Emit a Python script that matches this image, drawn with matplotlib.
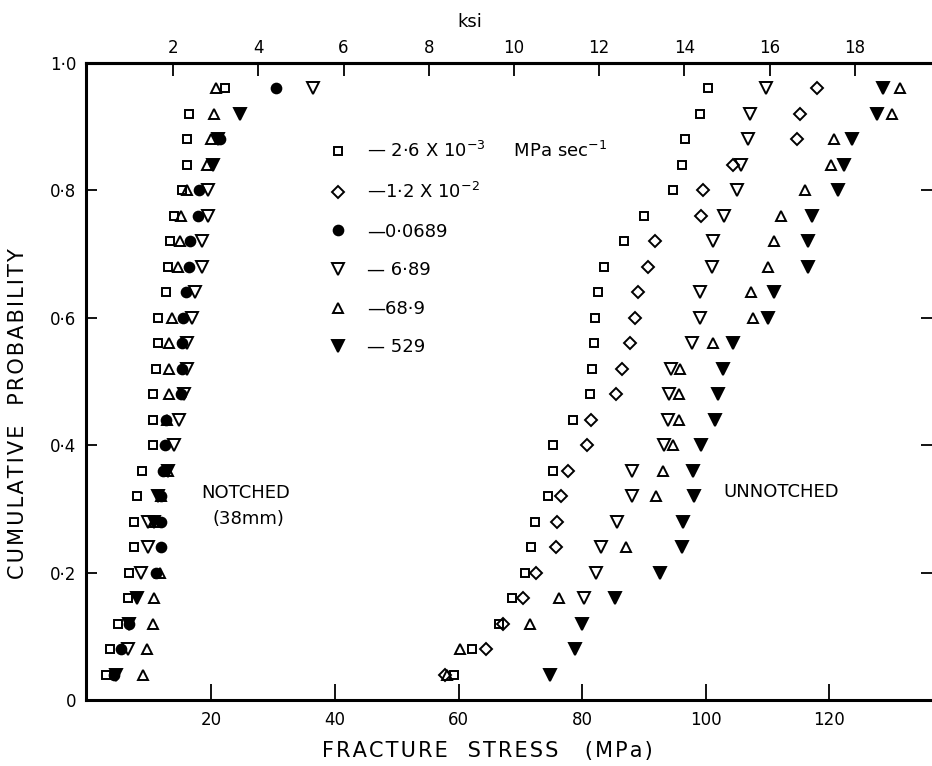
import numpy as np
import matplotlib.pyplot as plt

plt.rcParams['font.family'] = ['DejaVu Sans']
plt.rcParams['mathtext.default'] = 'regular'

nan = np.nan
MPA_PER_KSI = 6.895

# cumulative probability levels (i/25)
prob = [0.04, 0.08, 0.12, 0.16, 0.20, 0.24, 0.28, 0.32, 0.36, 0.40, 0.44, 0.48,
        0.52, 0.56, 0.60, 0.64, 0.68, 0.72, 0.76, 0.80, 0.84, 0.88, 0.92, 0.96]

# fracture stress (MPa), nan = point not visible
# 2.6e-3 MPa/s  (open square)
sq_notched = [3.0, 3.6, 4.9, 6.5, 6.7, 7.4, 7.5, 7.9, 8.7, 10.6, 10.6, 10.5,
              11.0, 11.3, 11.4, 12.6, 13.0, 13.3, 13.9, 15.3, 16.1, 16.1, 16.4, 22.2]
sq_unnotched = [59.2, 62.1, 66.6, 68.6, 70.7, 71.7, 72.3, 74.5, 75.2, 75.3, 78.5, 81.2,
                81.6, 81.9, 82.0, 82.6, 83.5, 86.7, 90.0, 94.7, 96.1, 96.6, 99.0, 100.4]
# 1.2e-2 MPa/s  (open diamond) - only unnotched
dia_notched = [nan] * 24
dia_unnotched = [57.8, 64.4, 67.2, 70.4, 72.6, 75.8, 75.9, 76.6, 77.7, 80.7, 81.5, 85.5,
                 86.4, 87.7, 88.5, 89.1, 90.6, 91.8, 99.2, 99.5, 104.4, 114.8, 115.3, 118.0]
# 0.0689 MPa/s  (filled circle) - only notched
circ_notched = [4.3, 5.3, 6.7, nan, 11.0, 11.8, 11.8, 11.8, 12.2, 12.5, 12.6, 15.0,
                15.2, 15.2, 15.4, 15.9, 16.4, 16.5, 17.9, 18.0, nan, 21.4, nan, 30.5]
circ_unnotched = [nan] * 24
# 6.89 MPa/s  (open triangle down)
tdn_notched = [nan, 6.5, nan, nan, 8.6, 9.7, 9.7, nan, nan, 14.0, 14.7, 15.6,
               16.1, 16.1, 16.8, 17.3, 18.4, 18.4, 19.5, 19.5, nan, nan, nan, 36.4]
tdn_unnotched = [nan, nan, nan, 80.3, 82.3, 83.0, 85.7, 88.0, 88.1, 93.2, 93.8, 94.1,
                 94.4, 97.7, 99.0, 99.1, 101.0, 101.2, 102.9, 105.0, 105.7, 106.8, 107.2, 109.7]
# 68.9 MPa/s  (open triangle up)
tup_notched = [9.0, 9.5, 10.6, 10.7, 11.7, nan, 10.9, 11.8, 12.9, nan, 12.8, 13.1,
               13.1, 13.1, 13.6, nan, 14.6, 14.9, 15.0, 16.1, 19.2, 19.9, 20.4, 20.8]
tup_unnotched = [58.1, 60.3, 71.6, 76.2, nan, 87.1, nan, 92.0, 93.1, 94.7, 95.7, 95.7,
                 95.9, 101.2, 107.7, 107.3, 110.1, 111.1, 112.2, 116.0, 120.3, 120.7, 130.1, 131.4]
# 529 MPa/s  (filled triangle down)
fdn_notched = [4.5, nan, 6.7, 8.0, nan, nan, 10.7, 11.3, 12.9, nan, nan, nan,
               nan, nan, nan, nan, nan, nan, nan, nan, 20.3, 21.0, 24.6, nan]
fdn_unnotched = [74.8, 78.9, 80.0, 85.3, 92.6, 96.2, 96.3, 98.1, 97.9, 99.3, 101.5, 102.0,
                 102.7, 104.4, 110.0, 111.0, 116.5, 116.6, 117.2, 121.4, 122.3, 123.6, 127.7, 128.7]

rate_labels = ["— 2·6 X 10$^{-3}$     MPa sec$^{-1}$", "—1·2 X 10$^{-2}$", "—0·0689",
               "— 6·89", "—68·9", "— 529"]

ytick_vals = [0, 0.2, 0.4, 0.6, 0.8, 1.0]
ytick_labels = ["0", "0·2", "0·4", "0·6", "0·8", "1·0"]
xtick_vals = [20, 40, 60, 80, 100, 120]
ksi_ticks = [2, 4, 6, 8, 10, 12, 14, 16, 18]


def spaced(words, gaps):
    # letter-spaced lettering like the original drawing
    parts = ["\u200a".join(w) for w in words]
    out = parts[0]
    for g, w in zip(gaps, parts[1:]):
        out += " " * g + w
    return out


fig = plt.figure(figsize=(9.32, 7.66), dpi=100)
ax = fig.add_axes([86 / 932, 66 / 766, 846 / 932, 637 / 766])

styles = [
    (sq_notched, sq_unnotched, dict(marker='s', ms=5.5, mfc='none')),
    (dia_notched, dia_unnotched, dict(marker='D', ms=6.0, mfc='none')),
    (circ_notched, circ_unnotched, dict(marker='o', ms=7.0, mfc='black')),
    (tdn_notched, tdn_unnotched, dict(marker='v', ms=8.2, mfc='none')),
    (tup_notched, tup_unnotched, dict(marker='^', ms=7.0, mfc='none')),
    (fdn_notched, fdn_unnotched, dict(marker='v', ms=8.8, mfc='black')),
]
p = np.array(prob)
for (notch, unnotch, st), lab in zip(styles, rate_labels):
    x = np.concatenate([notch, unnotch])
    y = np.concatenate([p, p])
    ax.plot(x, y, ls='none', mec='black', mew=1.4, label=lab, **st)

ax.set_xlim(-0.3, 136.6)
ax.set_ylim(0, 1.0)

for s in ['left', 'bottom', 'top']:
    ax.spines[s].set_linewidth(2.2)
ax.spines['right'].set_visible(False)

ax.set_xticks(xtick_vals)
ax.tick_params(axis='x', direction='in', length=11.5, width=1.3, labelsize=12, pad=8,
               top=False)
ax.set_yticks(ytick_vals)
ax.set_yticklabels(ytick_labels)
ax.tick_params(axis='y', direction='in', length=8, width=1.3, labelsize=12, pad=7,
               left=True, right=True)

top = ax.secondary_xaxis('top', functions=(lambda m: m / MPA_PER_KSI,
                                           lambda k: k * MPA_PER_KSI))
top.set_xticks(ksi_ticks)
top.tick_params(direction='in', length=9.5, width=1.3, labelsize=12, pad=4)
top.spines['top'].set_linewidth(2.2)
fig.text(470 / 932, 1 - 22 / 766, "ksi", fontsize=13, ha='center', va='center')

ax.set_xlabel(spaced(["FRACTURE", "STRESS", "(MPa)"], [3, 4]), fontsize=15)
ax.xaxis.set_label_coords(0.474, -0.064)
ax.set_ylabel(spaced(["CUMULATIVE", "PROBABILITY"], [3]), fontsize=15)
ax.yaxis.set_label_coords(-0.068, 0.45)

ax.text(18.3, 0.325, "NOTCHED", fontsize=13, ha='left', va='center')
ax.text(20.2, 0.284, "(38mm)", fontsize=13, ha='left', va='center')
ax.text(102.8, 0.327, "UNNOTCHED", fontsize=13, ha='left', va='center')

ax.legend(loc='upper left', bbox_to_anchor=(0.287, 0.877), frameon=False, fontsize=13,
          numpoints=1, handlelength=1.0, handletextpad=1.1, labelspacing=1.14,
          borderpad=0, borderaxespad=0)

fig.savefig("out.png", dpi=100)
